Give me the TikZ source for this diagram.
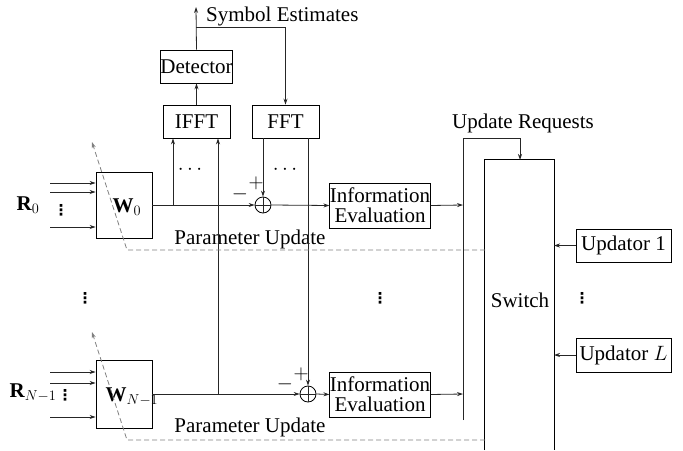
\documentclass[tikz,border=0pt]{standalone}
\usepackage{fontspec}
\setmainfont{Liberation Serif}
\newfontfamily\dvfont{DejaVu Sans}
\usetikzlibrary{arrows.meta}
\newcommand{\vdts}{{\dvfont ⋮}}
\begin{document}
\begin{tikzpicture}[x=1pt,y=-1pt,
  every node/.style={font=\fontsize{21}{23}\selectfont, inner sep=0pt},
  blk/.style={draw, line width=0.9pt, inner sep=0pt},
  sumc/.style={draw, circle, line width=0.8pt, minimum size=16pt, inner sep=0pt},
  wire/.style={line width=0.8pt, draw=black!85},
  arr/.style={wire, -{Stealth[length=6pt,width=4pt]}},
  upd/.style={dashed, draw=black!50, line width=0.8pt, dash pattern=on 5pt off 3pt},
  updarr/.style={upd, -{Stealth[length=6pt,width=4pt,open]}},
  vd/.style={font=\fontsize{15}{17}\bfseries\selectfont}]
\useasboundingbox (0,0) rectangle (683,450);
% blocks
\node[blk, minimum width=67pt, minimum height=33pt] (det) at (196.5,66.5) {Detector};
\node[blk, minimum width=67pt, minimum height=33pt] (ifft) at (196.5,121.5) {IFFT};
\node[blk, minimum width=67pt, minimum height=33pt] (fft) at (285.5,121.5) {FFT};
\node[blk, minimum width=56pt, minimum height=66pt] (w0) at (124,205) {};
\node (w0l) at (127,207) {$\mathbf{W}_0$};
\node[blk, minimum width=56pt, minimum height=68pt] (wn) at (124,394) {};
\node (wnl) at (132,397) {$\mathbf{W}_{N-1}$};
\node[sumc] (s0) at (263,205) {};
\node[sumc] (sn) at (308,394) {};
\draw[wire] (s0.north) -- (s0.south) (s0.west) -- (s0.east);
\draw[wire] (sn.north) -- (sn.south) (sn.west) -- (sn.east);
\node[blk, minimum width=100pt, minimum height=45pt, align=center] (ie0) at (380,205.5) {Information\\[-3pt]Evaluation};
\node[blk, minimum width=100pt, minimum height=45pt, align=center] (ien) at (380,394.5) {Information\\[-3pt]Evaluation};
\node[minimum width=69pt, minimum height=290pt] (sw) at (519.5,305) {};
\draw[line width=0.9pt] (sw.south west) -- (sw.north west) -- (sw.north east) -- (sw.south east);
\node (swl) at (520,300) {Switch};
\node[blk, minimum width=95pt, minimum height=33pt] (up1) at (623.5,245.5) {Updator 1};
\node[blk, minimum width=95pt, minimum height=34pt] (upL) at (623.5,355) {Updator $L$};
% labels
\node[anchor=west] (se) at (206,16) {Symbol Estimates};
\node (ur) at (523,123) {Update Requests};
\node (pu0) at (250,239) {Parameter Update};
\node (pun) at (250,427) {Parameter Update};
\node (r0) at (28,205) {$\mathbf{R}_0$};
\node (rn) at (33,393) {$\mathbf{R}_{N-1}$};
\node (d1) at (190,170) {$\cdots$};
\node (d2) at (285,170) {$\cdots$};
\node[vd] (v0) at (61,210) {\vdts};
\node[vd] (vn) at (65,395) {\vdts};
\node[vd] (vl) at (85,298) {\vdts};
\node[vd] (vm) at (380,298) {\vdts};
\node[vd] (vr) at (582,298) {\vdts};
\node (m0) at (240,194) {$-$};
\node (p0) at (256,183) {$+$};
\node (mn) at (285,384) {$-$};
\node (pn) at (301,374) {$+$};
% coordinates
\coordinate (top) at (196,7);
\coordinate (j1) at (196,27);
\coordinate (j2) at (285.5,27);
\coordinate (b0) at (173,205);
\coordinate (bn) at (218,394);
\coordinate (bus0) at (463,205);
\coordinate (busn) at (463,394);
\coordinate (bust) at (463,138);
\coordinate (busb) at (463,420);
\coordinate (ur1) at (520,138);
\coordinate (ur2) at (520,160);
\coordinate (sw1) at (554,245.5);
\coordinate (swL) at (554,355);
% connectors
\draw[arr] (det.north) -- (top);
\draw[arr] (j1) -- (j2) -- (fft.north);
\draw[arr] (ifft.north) -- (det.south);
\draw[arr] (b0) -- (b0 |- ifft.south);
\draw[arr] (bn) -- (bn |- ifft.south);
\draw[arr] (fft.south -| s0) -- (s0.north);
\draw[arr] (fft.south -| sn) -- (sn.north);
\draw[arr] (w0.east) -- (s0.west);
\draw[arr] (s0.east) -- (ie0.west);
\draw[arr] (ie0.east) -- (bus0);
\draw[arr] (wn.east) -- (sn.west);
\draw[arr] (sn.east) -- (ien.west);
\draw[arr] (ien.east) -- (busn);
\draw[arr] (busb) -- (bust) -- (ur1) -- (ur2);
\draw[arr] (up1.west) -- (sw1);
\draw[arr] (upL.west) -- (swL);
% inputs
\foreach \y/\n in {183/a,192/b,227/c} {
  \coordinate (i0\n) at (50,\y);
  \draw[arr] (i0\n) -- (i0\n -| w0.west);
}
\foreach \y/\n in {372/a,383/b,417/c} {
  \coordinate (in\n) at (50,\y);
  \draw[arr] (in\n) -- (in\n -| wn.west);
}
% parameter update dashed
\coordinate (pa1) at (485,250);
\coordinate (pa2) at (127,250);
\coordinate (pa3) at (92,142);
\draw[updarr] (pa1) -- (pa2) -- (pa3);
\coordinate (pb1) at (485,440);
\coordinate (pb2) at (127,440);
\coordinate (pb3) at (92,332);
\draw[updarr] (pb1) -- (pb2) -- (pb3);
\end{tikzpicture}
\end{document}
